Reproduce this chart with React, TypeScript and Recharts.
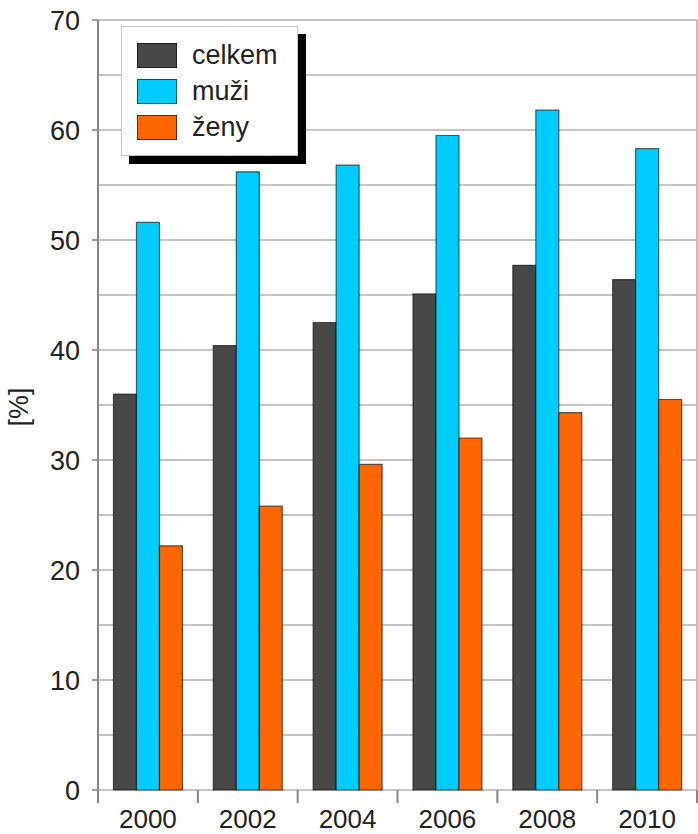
import { Bar, BarChart, CartesianGrid, Legend, XAxis, YAxis } from 'recharts';

const years = ['2000', '2002', '2004', '2006', '2008', '2010'];
const celkem = [36.0, 40.4, 42.5, 45.1, 47.7, 46.4];
const muzi = [51.6, 56.2, 56.8, 59.5, 61.8, 58.3];
const zeny = [22.2, 25.8, 29.6, 32.0, 34.3, 35.5];

const yTicks = [0, 10, 20, 30, 40, 50, 60, 70];
const gridValues = [0, 5, 10, 15, 20, 25, 30, 35, 40, 45, 50, 55, 60, 65, 70];

const FONT = '"Liberation Sans", Arial, Helvetica, sans-serif';
const AXIS = '#878787';
const GRID = '#b0b0b0';

const data = years.map((year, i) => ({
  year,
  celkem: celkem[i],
  muzi: muzi[i],
  zeny: zeny[i],
}));

// year label in the middle of the band, tick marks on the band edges
const YearTick = (props: any) => {
  const { x, y, payload, index, visibleTicksCount, width } = props;
  const band = width / visibleTicksCount;
  const left = x - band / 2;
  const isLast = index === visibleTicksCount - 1;
  return (
    <g>
      <line x1={left} y1={y} x2={left} y2={y + 13} stroke={AXIS} strokeWidth={2} />
      {isLast && (
        <line x1={left + band} y1={y} x2={left + band} y2={y + 13} stroke={AXIS} strokeWidth={2} />
      )}
      <text
        x={x}
        y={y + 29}
        textAnchor="middle"
        dominantBaseline="central"
        fontFamily={FONT}
        fontSize={26}
        fill="#222"
      >
        {payload.value}
      </text>
    </g>
  );
};

const LegendBox = ({ payload }: any) => (
  <div
    style={{
      width: 177,
      boxSizing: 'border-box',
      padding: '10px 0 10px 15px',
      background: '#fff',
      border: '1px solid #c8c8c8',
      boxShadow: '8px 8px 0 0 #000',
      fontFamily: FONT,
      fontSize: 27,
      color: '#222',
    }}
  >
    {(payload || []).map((item: any) => (
      <div key={item.value} style={{ display: 'flex', alignItems: 'center', height: 36 }}>
        <span
          style={{
            display: 'inline-block',
            width: 40,
            height: 25,
            boxSizing: 'border-box',
            background: item.color,
            border: '1px solid rgba(0,0,0,0.6)',
            marginRight: 15,
          }}
        />
        <span style={{ lineHeight: '27px' }}>{item.value}</span>
      </div>
    ))}
  </div>
);

export default function App() {
  return (
    <div style={{ position: 'absolute', left: 0, top: 0, background: '#fff' }}>
      <BarChart
        width={698}
        height={834}
        data={data}
        margin={{ top: 20, right: 0, bottom: 0, left: 0 }}
        barCategoryGap="15.5%"
        barGap={0}
      >
        <CartesianGrid
          yAxisId="l"
          vertical={false}
          horizontalValues={gridValues}
          stroke={GRID}
          strokeWidth={1.6}
        />
        <XAxis
          dataKey="year"
          height={44}
          axisLine={false}
          tickLine={false}
          tickSize={0}
          tickMargin={0}
          interval={0}
          tick={<YearTick />}
        />
        <YAxis
          yAxisId="l"
          width={98}
          domain={[0, 70]}
          ticks={yTicks}
          interval={0}
          axisLine={{ stroke: AXIS, strokeWidth: 2 }}
          tickLine={{ stroke: AXIS, strokeWidth: 1.6 }}
          tickSize={6}
          tickMargin={12}
          tick={{ fontFamily: FONT, fontSize: 27, fill: '#222' }}
          label={{
            value: '[%]',
            angle: -90,
            position: 'insideLeft',
            dx: 13,
            dy: 2,
            style: { fontFamily: FONT, fontSize: 27, fill: '#222', textAnchor: 'middle' },
          }}
        />
        <YAxis
          yAxisId="r"
          orientation="right"
          width={1}
          domain={[0, 70]}
          tick={false}
          tickLine={false}
          axisLine={{ stroke: GRID, strokeWidth: 1.6 }}
        />
        <Legend
          layout="horizontal"
          verticalAlign="middle"
          align="center"
          content={<LegendBox />}
          wrapperStyle={{ position: 'absolute', left: 121, top: 26, width: 'auto' }}
        />
        <Bar
          yAxisId="l"
          dataKey="celkem"
          name="celkem"
          fill="#484848"
          stroke="#000"
          strokeOpacity={0.6}
          strokeWidth={1.2}
          isAnimationActive={false}
        />
        <Bar
          yAxisId="l"
          dataKey="muzi"
          name="muži"
          fill="#00CCFF"
          stroke="#000"
          strokeOpacity={0.6}
          strokeWidth={1.2}
          isAnimationActive={false}
        />
        <Bar
          yAxisId="l"
          dataKey="zeny"
          name="ženy"
          fill="#FF6600"
          stroke="#000"
          strokeOpacity={0.6}
          strokeWidth={1.2}
          isAnimationActive={false}
        />
      </BarChart>
    </div>
  );
}
